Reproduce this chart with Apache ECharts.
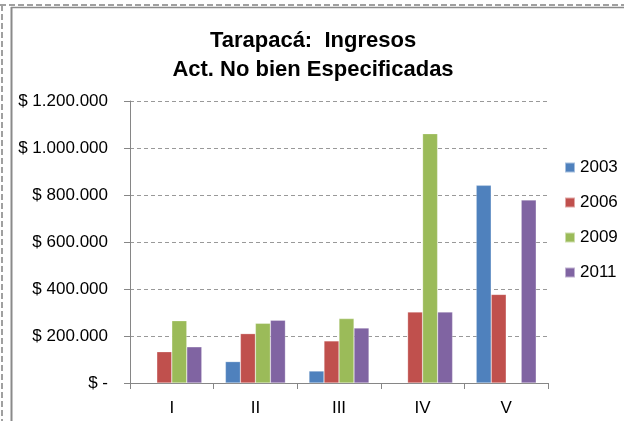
<!DOCTYPE html>
<html>
<head>
<meta charset="utf-8">
<script src="https://cdn.jsdelivr.net/npm/echarts@6/dist/echarts.min.js"></script>
<style>
  html, body { margin: 0; padding: 0; background: #fff; }
  #chart { width: 624px; height: 421px; }
</style>
</head>
<body>
<div id="chart"></div>
<script>
var categories = ['I', 'II', 'III', 'IV', 'V'];
var years = ['2003', '2006', '2009', '2011'];
var v2003 = ['-', 91000, 51000, '-', 841000];
var v2006 = [133000, 210000, 179000, 302000, 377000];
var v2009 = [265000, 254000, 274000, 1061000, '-'];
var v2011 = [154000, 267000, 234000, 302000, 779000];
var colors = ['#4F81BD', '#C0504D', '#9BBB59', '#8064A2'];

var chart = echarts.init(document.getElementById('chart'));

function money(v) {
    if (v === 0) return '$ -';
    return '$ ' + String(v).replace(/\B(?=(\d{3})+(?!\d))/g, '.');
}

function bar(name, data) {
    return {
        name: name,
        type: 'bar',
        data: data,
        barWidth: 15,
        barGap: '0%',
        itemStyle: { borderColor: 'rgba(255,255,255,0.5)', borderWidth: 0.5 }
    };
}

var font = 'Liberation Sans';

var option = {
    animation: false,
    color: colors,
    textStyle: { fontFamily: font },
    title: {
        text: 'Tarapacá:  Ingresos\nAct. No bien Especificadas',
        left: 308,
        textAlign: 'center',
        top: 21,
        textStyle: { fontSize: 22, fontWeight: 'bold', color: '#000', lineHeight: 29, fontFamily: font }
    },
    legend: {
        data: years,
        orient: 'vertical',
        left: 559,
        top: 154,
        itemWidth: 10,
        itemHeight: 10,
        itemGap: 18,
        icon: 'rect',
        textStyle: { fontSize: 17, color: '#000', lineHeight: 17, fontFamily: font }
    },
    grid: { left: 130, right: 76, top: 101, bottom: 38 },
    xAxis: {
        type: 'category',
        data: categories,
        axisLine: { lineStyle: { color: '#868686', width: 1 } },
        axisTick: { show: true, length: 6, lineStyle: { color: '#868686' } },
        axisLabel: { fontSize: 17, color: '#000', margin: 17, fontFamily: font }
    },
    yAxis: {
        type: 'value',
        min: 0,
        max: 1200000,
        interval: 200000,
        axisLine: { show: true, lineStyle: { color: '#868686', width: 1 } },
        axisTick: { show: true, length: 6, lineStyle: { color: '#868686' } },
        axisLabel: { fontSize: 17, color: '#000', margin: 22, formatter: money, fontFamily: font },
        splitLine: { lineStyle: { color: '#999', type: [4, 3] } }
    },
    graphic: [
        { type: 'line', shape: { x1: 0, y1: 5, x2: 624, y2: 5 }, style: { stroke: '#a0a0a0', lineWidth: 2, lineDash: [6, 3] } },
        { type: 'line', shape: { x1: 2, y1: 5, x2: 2, y2: 421 }, style: { stroke: '#a0a0a0', lineWidth: 2, lineDash: [6, 3] } },
        { type: 'line', shape: { x1: 11, y1: 7.5, x2: 624, y2: 7.5 }, style: { stroke: '#8a8a8a', lineWidth: 1.5 } },
        { type: 'line', shape: { x1: 11.5, y1: 7, x2: 11.5, y2: 421 }, style: { stroke: '#8a8a8a', lineWidth: 2 } }
    ],
    series: [
        bar('2003', v2003),
        bar('2006', v2006),
        bar('2009', v2009),
        bar('2011', v2011)
    ]
};

chart.setOption(option);
</script>
</body>
</html>
